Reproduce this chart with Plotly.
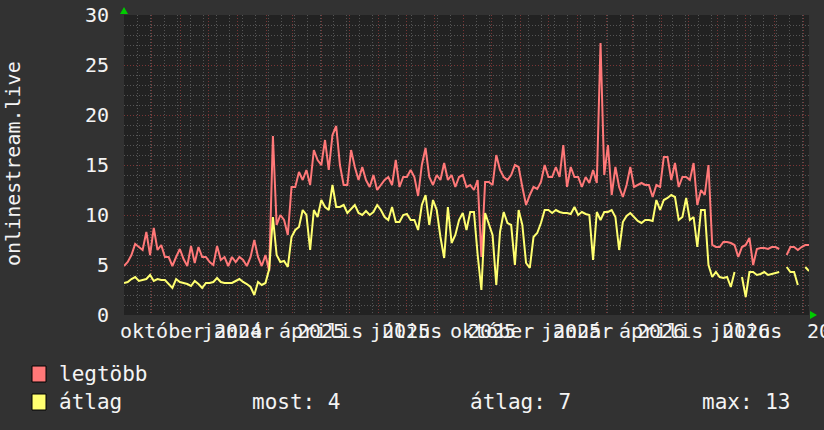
import plotly.graph_objects as go
import pandas as pd

# ---------------- data ----------------
start_date = "2024-09-01"
step_days = 4

legtobb = [4.9,5.3,6.0,7.1,6.8,6.5,8.3,6.0,8.7,6.5,7.0,5.8,5.8,4.9,5.8,6.6,5.6,4.9,6.9,5.2,6.8,5.8,5.8,5.3,5.0,6.9,5.5,5.8,4.9,5.8,5.3,5.8,
           5.5,4.9,5.8,7.5,5.8,4.9,6.0,4.4,17.9,9.0,10.0,9.5,8.0,12.8,12.8,14.3,13.5,14.5,13.0,16.5,15.5,15.0,17.5,14.5,18.0,18.9,15.0,13.0,13.0,16.5,14.8,
           13.5,14.8,13.5,12.8,14.0,12.5,13.0,13.5,13.8,13.0,15.5,12.8,13.8,13.8,14.5,13.8,11.9,15.0,16.7,13.8,13.0,14.0,13.5,15.2,13.5,14.0,12.8,13.8,14.0,12.8,
           13.0,12.5,13.5,5.8,13.3,13.3,13.0,16.0,14.5,13.8,13.5,14.0,15.0,14.8,12.8,11.0,12.0,12.8,12.6,13.3,15.0,13.8,13.8,14.8,13.8,17.0,12.8,14.8,13.8,13.8,12.8,13.8,
           13.2,14.5,13.2,27.2,14.0,17.0,12.0,14.8,12.8,11.8,13.0,14.8,12.8,13.0,13.2,13.0,13.0,11.8,13.0,12.8,15.8,15.8,13.5,15.2,12.8,13.8,13.8,13.5,15.2,11.0,12.5,
           12.0,15.0,7.0,6.8,6.8,7.3,7.3,7.2,7.0,5.8,6.8,7.0,7.7,5.0,6.6,6.7,6.7,6.6,6.8,6.8,6.6,None,6.0,6.8,6.8,6.5,6.8,7.0,7.0]

atlag = [3.2,3.3,3.6,3.8,3.4,3.5,3.6,4.0,3.4,3.6,3.5,3.5,3.1,2.7,3.6,3.3,3.2,3.1,2.9,3.4,3.1,2.7,3.2,3.2,3.3,3.7,3.3,3.2,3.2,3.2,3.4,3.6,
         3.3,3.1,2.8,2.0,3.3,3.0,3.2,4.6,9.8,6.0,5.3,5.4,4.8,7.8,8.5,8.8,10.5,10.0,6.5,10.5,9.8,11.5,10.8,10.5,13.0,10.8,10.8,11.0,10.2,10.6,11.0,
         10.2,10.0,10.4,10.0,10.3,11.0,10.5,9.8,9.5,10.8,9.3,9.3,10.0,10.1,9.5,9.5,8.5,11.0,12.0,9.0,11.5,10.5,7.8,5.7,10.8,7.2,8.0,9.5,10.2,8.5,
         10.3,10.3,6.0,2.5,10.2,9.0,8.0,3.0,8.3,10.3,9.2,9.0,5.0,10.5,9.0,5.2,4.7,7.8,8.2,9.2,10.5,10.5,10.2,10.5,10.3,10.2,10.2,10.1,10.8,10.0,10.3,10.1,
         10.0,5.5,10.3,9.5,10.3,10.3,10.5,9.8,6.5,9.3,9.9,10.2,9.8,9.4,9.2,9.5,9.5,9.4,11.5,10.5,11.5,11.7,12.0,11.8,9.5,9.8,11.7,9.5,9.8,6.8,10.5,
         10.5,5.0,3.8,4.3,3.8,3.7,3.8,2.8,4.3,None,3.8,1.8,4.3,4.3,4.0,4.1,4.3,4.0,4.1,4.2,4.3,None,4.8,4.3,4.3,3.0,None,4.8,4.4]

label_dates = ["2024-10-01","2025-01-01","2025-04-01","2025-07-01","2025-10-01",
               "2026-01-01","2026-04-01","2026-07-01","2026-10-01"]
month_labels = ["október","január","április","július","október","január","április","július",""]
year_labels = ["","2024","2025","2025","2025","2025","2026","2026","2026"]

y_ticks = [0,5,10,15,20,25,30]
y_title = "onlinestream.live"
series_names = ["legtöbb","átlag"]
stat_labels = ["most: 4","átlag: 7","max: 13"]

# ---------------- layout constants ----------------
W, H = 824, 430
L, R, T, B = 124, 15, 15, 115
PW, PH = W - L - R, H - T - B
BG = "#323232"
PLOT_BG = "#222222"
RED = "#ff7878"
YEL = "#ffff70"
FONT = "DejaVu Sans Mono"
TXT = "#f4f4f4"
CHAR_W = 12.04          # advance of DejaVu Sans Mono at 20 px

def px(x):
    return (x - L) / PW

def py(y):
    return (H - B - y) / PH

dates = pd.date_range(start_date, periods=len(legtobb), freq=f"{step_days}D")
t0, t1 = dates[0], dates[-1]
month_starts = pd.date_range(t0, t1, freq="MS")

fig = go.Figure()
fig.add_trace(go.Scatter(x=dates, y=legtobb, mode="lines", name=series_names[0],
                         line=dict(color=RED, width=2), connectgaps=False, showlegend=False))
fig.add_trace(go.Scatter(x=dates, y=atlag, mode="lines", name=series_names[1],
                         line=dict(color=YEL, width=2), connectgaps=False, showlegend=False))

fig.update_layout(
    width=W, height=H,
    margin=dict(l=L, r=R, t=T, b=B, pad=0, autoexpand=False),
    paper_bgcolor=BG, plot_bgcolor=PLOT_BG,
    font=dict(family=FONT, size=20, color=TXT),
    xaxis=dict(type="date", range=[t0, t1], showticklabels=False, ticks="",
               tickmode="array", tickvals=list(month_starts), automargin=False,
               showgrid=True, gridcolor="#7a3636", griddash="1px,2px", gridwidth=1,
               minor=dict(dtick=14 * 86400000, tick0="2024-09-02", showgrid=True,
                          gridcolor="#555555", griddash="1px,2px", gridwidth=1),
               zeroline=False, showline=False),
    yaxis=dict(range=[0, 30], tickmode="array", tickvals=y_ticks, automargin=False,
               ticktext=[str(v) for v in y_ticks], ticks="", ticklabelstandoff=14,
               tickfont=dict(family=FONT, size=20, color=TXT),
               showgrid=True, gridcolor="#7a3636", griddash="1px,2px", gridwidth=1,
               minor=dict(dtick=1, showgrid=True, gridcolor="#555555",
                          griddash="1px,2px", gridwidth=1),
               zeroline=False, showline=False),
)

span = (t1 - t0).total_seconds()
annotations = []
min_left = L - 6        # labels are kept from running past the left of the graph
for d, m, yl in zip(label_dates, month_labels, year_labels):
    cx = L + PW * (pd.Timestamp(d) - t0).total_seconds() / span
    for txt in (m, yl):
        if txt:
            half = len(txt) * CHAR_W / 2
            if cx - half < min_left:
                ann_x, anchor = px(min_left), "left"
            else:
                ann_x, anchor = px(cx), "center"
            annotations.append(dict(x=ann_x, y=py(331), xref="paper", yref="paper",
                                    text=txt, showarrow=False, xanchor=anchor,
                                    yanchor="middle", font=dict(family=FONT, size=20, color=TXT)))

annotations.append(dict(x=px(13), y=py(163), xref="paper", yref="paper",
                        text=y_title, textangle=-90, showarrow=False,
                        xanchor="center", yanchor="middle",
                        font=dict(family=FONT, size=20, color=TXT)))

# legend
leg_rows = [(374, RED, series_names[0]), (402, YEL, series_names[1])]
shapes = []
for yy, col, name in leg_rows:
    shapes.append(dict(type="rect", xref="paper", yref="paper",
                       x0=px(32), x1=px(46), y0=py(yy - 8), y1=py(yy + 8),
                       fillcolor=col, line=dict(color="#000000", width=1)))
    annotations.append(dict(x=px(57), y=py(yy), xref="paper", yref="paper", text=name,
                            showarrow=False, xanchor="left", yanchor="middle",
                            font=dict(family=FONT, size=21, color=TXT)))
for xx, s in zip([250, 468, 700], stat_labels):
    annotations.append(dict(x=px(xx), y=py(402), xref="paper", yref="paper", text=s,
                            showarrow=False, xanchor="left", yanchor="middle",
                            font=dict(family=FONT, size=21, color=TXT)))

# arrows
shapes.append(dict(type="path", xref="paper", yref="paper",
                   path=f"M {px(120)} {py(14)} L {px(128)} {py(14)} L {px(124)} {py(7)} Z",
                   fillcolor="#00cc00", line=dict(color="#00cc00", width=0)))
shapes.append(dict(type="path", xref="paper", yref="paper",
                   path=f"M {px(810)} {py(311)} L {px(810)} {py(319)} L {px(817)} {py(315)} Z",
                   fillcolor="#00cc00", line=dict(color="#00cc00", width=0)))

fig.update_layout(annotations=annotations, shapes=shapes)
fig.write_html("out.html", config={"displayModeBar": False},
               post_script="document.body.style.margin='0';document.body.style.overflow='hidden';"
                           "document.body.style.background='#323232';")
